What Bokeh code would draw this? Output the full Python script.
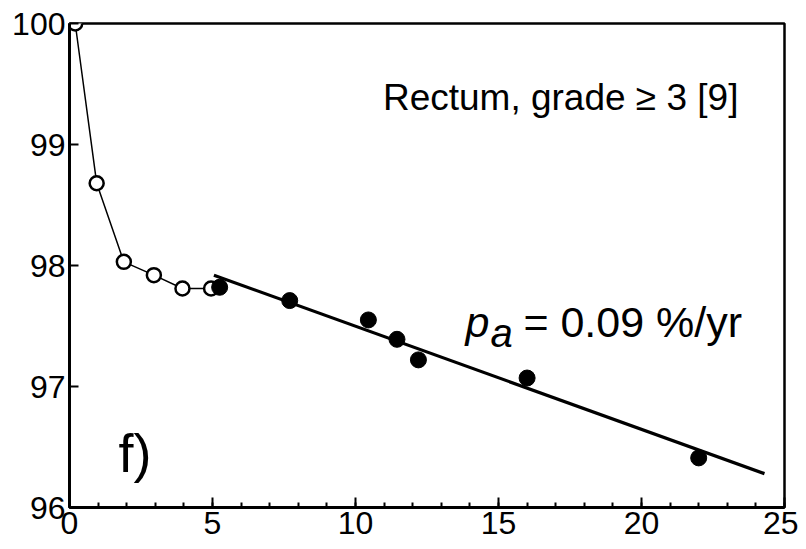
from bokeh.plotting import figure
from bokeh.models import Range1d, SingleIntervalTicker, Label
from bokeh.embed import file_html
from bokeh.resources import INLINE

# --- data ---
early_years = [0.2, 0.95, 1.9, 2.95, 3.95, 4.95]
early_pct = [100.0, 98.68, 98.03, 97.92, 97.81, 97.81]

late_years = [5.25, 7.7, 10.45, 11.45, 12.2, 16.0, 22.0]
late_pct = [97.82, 97.71, 97.55, 97.39, 97.22, 97.07, 96.41]

fit_years = [5.05, 24.3]
fit_pct = [97.92, 96.28]

title_text = "Rectum, grade \u2265 3 [9]"
rate_text = "= 0.09 %/yr"
panel_text = "f)"

FONT = "Liberation Sans"

p = figure(frame_width=715, frame_height=484,
           x_range=Range1d(0, 25), y_range=Range1d(96, 100),
           output_backend="svg", toolbar_location=None,
           min_border_left=69, min_border_top=23, min_border_right=14,
           min_border_bottom=10)

p.xgrid.visible = False
p.ygrid.visible = False
p.outline_line_color = "black"
p.outline_line_width = 2.5
p.background_fill_color = "white"
p.border_fill_color = "white"

# x axis
p.xaxis.ticker = SingleIntervalTicker(interval=5, num_minor_ticks=5)
p.xaxis.major_tick_in = 10
p.xaxis.major_tick_out = 0
p.xaxis.minor_tick_in = 5
p.xaxis.minor_tick_out = 0
p.xaxis.major_tick_line_width = 2
p.xaxis.minor_tick_line_width = 2
p.xaxis.axis_line_width = 3
p.xaxis.major_label_text_font = FONT
p.xaxis.major_label_text_font_size = "32px"
p.xaxis.major_label_text_color = "black"
p.xaxis.major_label_standoff = 4

# y axis
p.yaxis.ticker = SingleIntervalTicker(interval=1, num_minor_ticks=0)
p.yaxis.major_tick_in = 9
p.yaxis.major_tick_out = 0
p.yaxis.minor_tick_line_color = None
p.yaxis.major_tick_line_width = 2
p.yaxis.axis_line_width = 3
p.yaxis.major_label_text_font = FONT
p.yaxis.major_label_text_font_size = "32px"
p.yaxis.major_label_text_color = "black"
p.yaxis.major_label_standoff = 4

# connecting line of early points
p.line(early_years, early_pct, line_color="black", line_width=1.5)
# regression line
p.line(fit_years, fit_pct, line_color="black", line_width=3.2)
# open circles
p.scatter(early_years, early_pct, marker="circle", size=14,
          fill_color="white", line_color="black", line_width=2.5)
# filled circles
p.scatter(late_years, late_pct, marker="circle", size=16,
          fill_color="black", line_color="black")

p.add_layout(Label(x=23.39, y=99.39, text=title_text, text_align="right",
                   text_baseline="alphabetic", text_font=FONT,
                   text_font_size="37px", text_color="black"))

p.add_layout(Label(x=13.85, y=97.537, text="p", text_align="left",
                   text_baseline="alphabetic", text_font=FONT,
                   text_font_style="italic",
                   text_font_size="43px", text_color="black"))
p.add_layout(Label(x=14.72, y=97.44, text="a", text_align="left",
                   text_baseline="alphabetic", text_font=FONT,
                   text_font_style="italic",
                   text_font_size="40px", text_color="black"))
p.add_layout(Label(x=15.87, y=97.537, text=rate_text, text_align="left",
                   text_baseline="alphabetic", text_font=FONT,
                   text_font_size="43px", text_color="black"))

p.add_layout(Label(x=1.71, y=96.45, text=panel_text, text_align="left",
                   text_baseline="alphabetic", text_font=FONT,
                   text_font_size="54px", text_color="black"))

open("out.html", "w").write(file_html(p, INLINE))
